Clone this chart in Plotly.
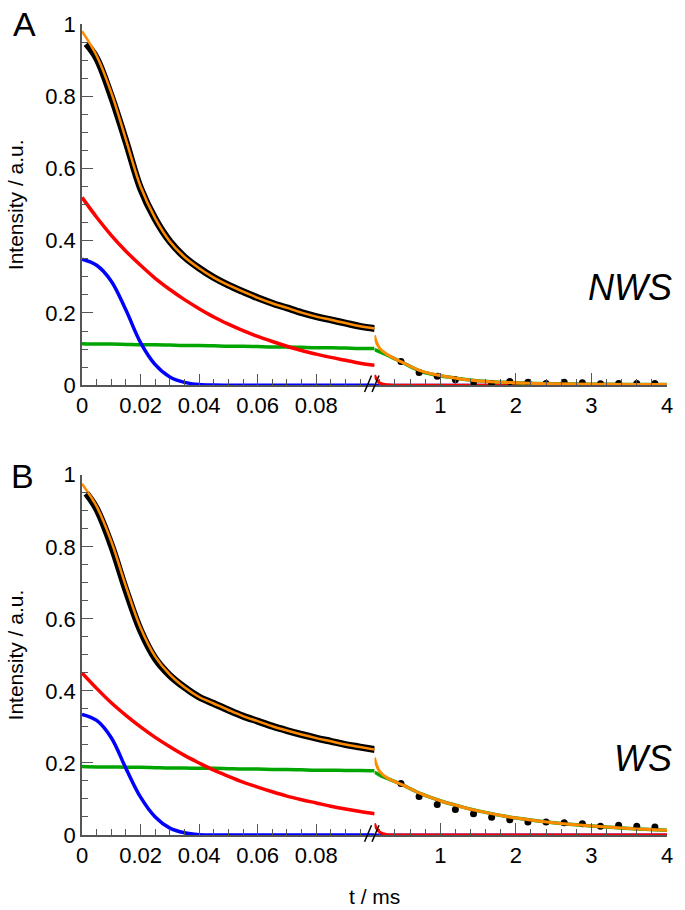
import plotly.graph_objects as go

# time grids (ms)
t_fast = [0, 0.005, 0.01, 0.015, 0.02, 0.025, 0.03, 0.035, 0.04, 0.045, 0.05,
          0.055, 0.06, 0.065, 0.07, 0.075, 0.08, 0.085, 0.09, 0.095, 0.1]
t_data = [0.0015, 0.005, 0.01, 0.015, 0.02, 0.025, 0.03, 0.035, 0.04, 0.045, 0.05,
          0.055, 0.06, 0.065, 0.07, 0.075, 0.08, 0.085, 0.09, 0.095, 0.1]
t_slow = [0.13, 0.15, 0.2, 0.3, 0.4, 0.5, 0.75, 1.0, 1.25, 1.5, 2.0, 2.5, 3.0, 3.5, 4.0]
t_dots = [0.48, 0.72, 0.96, 1.2, 1.44, 1.68, 1.92, 2.16, 2.4, 2.64, 2.88, 3.12, 3.36, 3.6, 3.84]

# panel A - NWS
nws_data = [0.945, 0.905, 0.80, 0.675, 0.545, 0.46, 0.398, 0.355, 0.324, 0.298, 0.277,
            0.259, 0.242, 0.227, 0.214, 0.201, 0.19, 0.181, 0.172, 0.163, 0.157]
nws_fit = [0.98, 0.912, 0.81, 0.68, 0.55, 0.462, 0.398, 0.355, 0.324, 0.298, 0.277,
           0.259, 0.242, 0.227, 0.214, 0.201, 0.19, 0.181, 0.172, 0.163, 0.157]
nws_blue = [0.349, 0.332, 0.288, 0.208, 0.118, 0.057, 0.023, 0.008, 0.002, 0.0005, 0,
            0, 0, 0, 0, 0, 0, 0, 0, 0, 0]
nws_red = [0.52, 0.465, 0.415, 0.371, 0.332, 0.296, 0.265, 0.237, 0.212, 0.189, 0.169,
           0.151, 0.135, 0.121, 0.108, 0.096, 0.086, 0.077, 0.069, 0.061, 0.055]
nws_green = [0.115, 0.114, 0.114, 0.113, 0.112, 0.112, 0.111, 0.110, 0.110, 0.109, 0.108,
             0.108, 0.107, 0.106, 0.106, 0.105, 0.104, 0.104, 0.103, 0.102, 0.102]
nws_fit_tail = [0.138, 0.122, 0.102, 0.085, 0.073, 0.063, 0.039, 0.027, 0.018, 0.012,
                0.007, 0.004, 0.003, 0.002, 0.002]
nws_green_tail = [0.099, 0.097, 0.092, 0.083, 0.073, 0.063, 0.038, 0.026, 0.018, 0.012,
                  0.007, 0.004, 0.003, 0.002, 0.002]
nws_red_tail = [0.028, 0.019, 0.006, 0.001, 0, 0, 0, 0, 0, 0, 0, 0, 0, 0, 0]
nws_blue_tail = [0, 0, 0, 0, 0, 0, 0, 0, 0, 0, 0, 0, 0, 0, 0]
nws_dots = [0.066, 0.035, 0.025, 0.015, 0.007, 0.005, 0.010, 0.008, 0.005, 0.008,
            0.007, 0.004, 0.005, 0.005, 0.005]

# panel B - WS
ws_data = [0.948, 0.905, 0.805, 0.68, 0.568, 0.49, 0.443, 0.41, 0.383, 0.365, 0.347,
           0.330, 0.316, 0.302, 0.290, 0.279, 0.269, 0.260, 0.251, 0.244, 0.237]
ws_fit = [0.975, 0.912, 0.815, 0.69, 0.575, 0.495, 0.445, 0.41, 0.383, 0.365, 0.347,
          0.330, 0.316, 0.302, 0.290, 0.279, 0.269, 0.260, 0.251, 0.244, 0.237]
ws_blue = [0.335, 0.318, 0.27, 0.185, 0.105, 0.05, 0.019, 0.006, 0.001, 0, 0,
           0, 0, 0, 0, 0, 0, 0, 0, 0, 0]
ws_red = [0.45, 0.407, 0.367, 0.332, 0.300, 0.271, 0.245, 0.221, 0.200, 0.180, 0.163,
          0.147, 0.133, 0.120, 0.108, 0.098, 0.089, 0.080, 0.072, 0.065, 0.059]
ws_green = [0.190, 0.189, 0.189, 0.188, 0.188, 0.187, 0.186, 0.186, 0.185, 0.185, 0.184,
            0.183, 0.183, 0.182, 0.182, 0.181, 0.180, 0.180, 0.179, 0.179, 0.178]
ws_fit_tail = [0.215, 0.198, 0.176, 0.158, 0.148, 0.139, 0.114, 0.095, 0.080, 0.067,
               0.047, 0.034, 0.025, 0.018, 0.013]
ws_green_tail = [0.174, 0.172, 0.166, 0.157, 0.148, 0.139, 0.114, 0.095, 0.080, 0.067,
                 0.047, 0.034, 0.025, 0.018, 0.013]
ws_red_tail = [0.032, 0.021, 0.008, 0.001, 0, 0, 0, 0, 0, 0, 0, 0, 0, 0, 0]
ws_blue_tail = [0, 0, 0, 0, 0, 0, 0, 0, 0, 0, 0, 0, 0, 0, 0]
ws_dots = [0.143, 0.107, 0.085, 0.071, 0.059, 0.049, 0.042, 0.036, 0.036, 0.034,
           0.031, 0.024, 0.027, 0.024, 0.022]

ORANGE = "#ff8c00"
RED = "#ff0000"
BLUE = "#0000ff"
GREEN = "#00a500"
AXIS = "#555555"
FONT = "Liberation Sans, Arial, sans-serif"

fig = go.Figure()


def line(x, y, color, width, xa, ya):
    fig.add_trace(go.Scatter(x=x, y=y, mode="lines", xaxis=xa, yaxis=ya,
                             line=dict(color=color, width=width, shape="spline"),
                             showlegend=False, hoverinfo="skip"))


def panel(xa_fast, xa_slow, ya, data, fit, blue, red, green,
          fit_tail, green_tail, red_tail, blue_tail, dots):
    line(t_fast, green, GREEN, 3.5, xa_fast, ya)
    line(t_fast, red, RED, 3.5, xa_fast, ya)
    line(t_fast, blue, BLUE, 3.5, xa_fast, ya)
    line(t_data, data, "black", 7, xa_fast, ya)
    line(t_fast, fit, ORANGE, 2.5, xa_fast, ya)
    line(t_slow, blue_tail, BLUE, 3, xa_slow, ya)
    line(t_slow, red_tail, RED, 3, xa_slow, ya)
    line(t_slow, green_tail, GREEN, 3.5, xa_slow, ya)
    fig.add_trace(go.Scatter(x=t_dots, y=dots, mode="markers", xaxis=xa_slow, yaxis=ya,
                             marker=dict(color="black", size=7),
                             showlegend=False, hoverinfo="skip"))
    line(t_slow, fit_tail, ORANGE, 3, xa_slow, ya)


panel("x", "x2", "y", nws_data, nws_fit, nws_blue, nws_red, nws_green,
      nws_fit_tail, nws_green_tail, nws_red_tail, nws_blue_tail, nws_dots)
panel("x3", "x4", "y2", ws_data, ws_fit, ws_blue, ws_red, ws_green,
      ws_fit_tail, ws_green_tail, ws_red_tail, ws_blue_tail, ws_dots)

tickfont = dict(family=FONT, size=22, color="black")
common = dict(showline=True, linecolor=AXIS, linewidth=1.5, ticks="inside",
              tickcolor=AXIS, tickwidth=1.2, showgrid=False, zeroline=False,
              tickfont=tickfont)

fast_x = dict(common, range=[0, 0.0999], tickmode="linear", tick0=0, dtick=0.02,
              ticklen=11, minor=dict(tickmode="linear", tick0=0, dtick=0.005,
                                     ticklen=6, ticks="inside", tickcolor=AXIS))
slow_x = dict(common, range=[0.13, 4], tickmode="linear", tick0=0, dtick=1,
              ticklen=12, minor=dict(tickmode="linear", tick0=0, dtick=0.2,
                                     ticklen=6, ticks="inside", tickcolor=AXIS))
y_ax = dict(common, range=[0, 1], tickmode="linear", tick0=0, dtick=0.2,
            ticklen=11, minor=dict(tickmode="linear", tick0=0, dtick=0.05,
                                   ticklen=6, ticks="inside", tickcolor=AXIS))

fig.update_layout(
    width=685, height=910,
    margin=dict(l=82, r=13, t=20, b=75),
    plot_bgcolor="white", paper_bgcolor="white",
    font=dict(family=FONT, color="black"),
    xaxis=dict(fast_x, domain=[0, 0.5], anchor="y"),
    xaxis2=dict(slow_x, domain=[0.5, 1], anchor="y"),
    xaxis3=dict(fast_x, domain=[0, 0.5], anchor="y2"),
    xaxis4=dict(slow_x, domain=[0.5, 1], anchor="y2"),
    yaxis=dict(y_ax, domain=[0.5546, 1], anchor="x"),
    yaxis2=dict(y_ax, domain=[0, 0.4442], anchor="x3"),
)

# axis break marks
for yb in [(0.5462, 0.5666), (-0.0084, 0.012)]:
    for xs in [(0.4830, 0.4949), (0.4958, 0.5077)]:
        fig.add_shape(type="line", xref="paper", yref="paper",
                      x0=xs[0], y0=yb[0], x1=xs[1], y1=yb[1],
                      line=dict(color="black", width=1.5))

ann = [
    dict(text="A", x=-0.0983, y=1.0006, font=dict(size=34)),
    dict(text="B", x=-0.1025, y=0.443, font=dict(size=34)),
    dict(text="<i>NWS</i>", x=1.012, y=0.675, xanchor="right", font=dict(size=36)),
    dict(text="<i>WS</i>", x=1.012, y=0.0945, xanchor="right", font=dict(size=36)),
    dict(text="t / ms", x=0.5, y=-0.076, font=dict(size=21)),
    dict(text="Intensity / a.u.", x=-0.1136, y=0.7773, textangle=-90, font=dict(size=21)),
    dict(text="Intensity / a.u.", x=-0.1136, y=0.2221, textangle=-90, font=dict(size=21)),
]
for a in ann:
    a.setdefault("xanchor", "center")
    fig.add_annotation(xref="paper", yref="paper", yanchor="middle",
                       showarrow=False, **a)

fig.write_html("out.html", config={"displayModeBar": False},
               post_script="document.body.style.margin='0';")
